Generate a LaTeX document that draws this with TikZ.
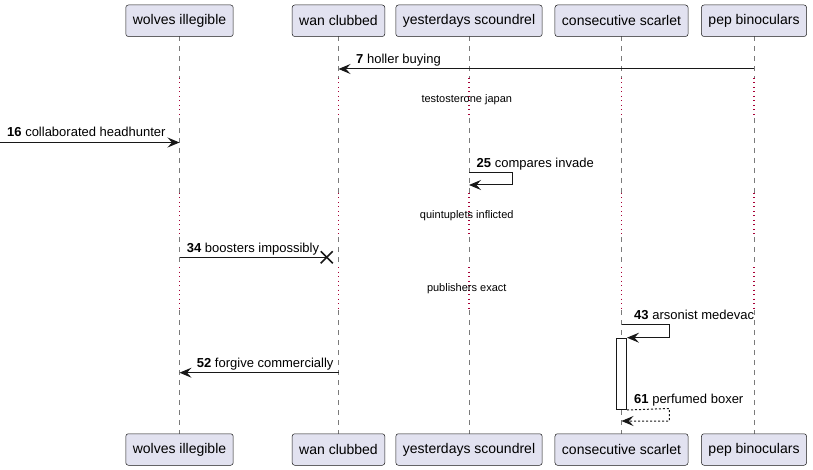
\documentclass[tikz,border=0pt]{standalone}
\usepackage{fontspec}
\setmainfont{Liberation Sans}
\usetikzlibrary{arrows.meta,calc}
\definecolor{boxfill}{HTML}{E2E2F0}
\definecolor{boxline}{HTML}{181818}
\definecolor{lifec}{HTML}{7A7A7A}
\definecolor{delayc}{HTML}{A80036}
\begin{document}
\begin{tikzpicture}[x=1pt,y=-1pt,
  participant/.style={draw=boxline, line width=0.5pt, fill=boxfill, rounded corners=2.5pt,
    minimum height=31.5pt, inner xsep=7pt, inner ysep=0pt, font=\fontsize{14}{16}\selectfont},
  lifeline/.style={draw=lifec, line width=0.8pt, dash pattern=on 5pt off 5pt},
  delayline/.style={draw=delayc, line width=1.2pt, dash pattern=on 1pt off 3.5pt},
  msg/.style={draw=boxline, line width=1pt, -{Stealth[length=12pt,width=10pt,inset=4.5pt]}},
  retmsg/.style={draw=boxline, line width=1pt, dash pattern=on 2pt off 2pt, -{Stealth[length=12pt,width=10pt,inset=4.5pt]}},
  lbl/.style={anchor=base west, inner sep=0pt, font=\fontsize{13}{15}\selectfont},
  dlbl/.style={anchor=base, inner sep=0pt, font=\fontsize{11}{13}\selectfont},
  actbar/.style={draw=boxline, line width=1pt, fill=white}
]
\useasboundingbox (0,0) rectangle (813,470);

% lifelines (segments: dashed / dotted delays)
\foreach \x in {179.5,338.5,469,621.5,754}{
  \draw[lifeline] (\x,36.5) -- (\x,78);
  \draw[delayline] (\x,78) -- (\x,118);
  \draw[lifeline] (\x,118) -- (\x,193);
  \draw[delayline] (\x,193) -- (\x,237);
  \draw[lifeline] (\x,237) -- (\x,267);
  \draw[delayline] (\x,267) -- (\x,310);
  \draw[lifeline] (\x,310) -- (\x,433.5);
}

% participants top
\node[participant] (wt) at (179.5,20.75) {wolves illegible};
\node[participant] (ct) at (338.5,20.75) {wan clubbed};
\node[participant] (yt) at (469,20.75) {yesterdays scoundrel};
\node[participant] (st) at (621.5,20.75) {consecutive scarlet};
\node[participant] (pt) at (754,20.75) {pep binoculars};
% participants bottom
\node[participant] (wb) at (179.5,449.5) {wolves illegible};
\node[participant] (cb) at (338.5,449.5) {wan clubbed};
\node[participant] (yb) at (469,449.5) {yesterdays scoundrel};
\node[participant] (sb) at (621.5,449.5) {consecutive scarlet};
\node[participant] (pb) at (754,449.5) {pep binoculars};

% activation bar
\node[actbar, minimum width=10pt, minimum height=71.3pt, inner sep=0pt, anchor=north] (act) at (621.5,337.7) {};

% message 7
\coordinate (m7s) at (754,69);
\coordinate (m7e) at (338.5,69);
\draw[msg] (m7s) -- (m7e);
\node[lbl] (l7) at (356,64) {\textbf{7} holler buying};

% delay 1
\node[dlbl] (d1) at (466.75,103) {testosterone japan};

% message 16
\coordinate (m16s) at (0,142.5);
\coordinate (m16e) at (179.5,142.5);
\draw[msg] (m16s) -- (m16e);
\node[lbl] (l16) at (7,137) {\textbf{16} collaborated headhunter};

% message 25 (self)
\coordinate (m25a) at (469,172.3);
\coordinate (m25b) at (512,172.3);
\coordinate (m25c) at (512,185);
\coordinate (m25d) at (469,185);
\draw[msg] (m25a) -- (m25b) -- (m25c) -- (m25d);
\node[lbl] (l25) at (476.5,167.3) {\textbf{25} compares invade};

% delay 2
\node[dlbl] (d2) at (466.75,219) {quintuplets inflicted};

% message 34 (destroy)
\coordinate (m34s) at (179.5,257.3);
\coordinate (m34e) at (326.7,257.3);
\draw[draw=boxline, line width=1pt] (m34s) -- (m34e);
\draw[draw=boxline, line width=1.6pt] ($(m34e)+(-6,-6)$) -- ($(m34e)+(6,6)$);
\draw[draw=boxline, line width=1.6pt] ($(m34e)+(-6,6)$) -- ($(m34e)+(6,-6)$);
\node[lbl] (l34) at (186.7,252.5) {\textbf{34} boosters impossibly};

% delay 3
\node[dlbl] (d3) at (466.75,291) {publishers exact};

% message 43 (self, activates)
\coordinate (m43a) at (621.5,324.3);
\coordinate (m43b) at (669.3,324.3);
\coordinate (m43c) at (669.3,337.7);
\draw[msg] (m43a) -- (m43b) -- (m43c) -- (act.north east);
\node[lbl] (l43) at (634,319) {\textbf{43} arsonist medevac};

% message 52
\coordinate (m52s) at (338.5,372.7);
\coordinate (m52e) at (179.5,372.7);
\draw[msg] (m52s) -- (m52e);
\node[lbl] (l52) at (196.7,367.5) {\textbf{52} forgive commercially};

% message 61 (return, dashed)
\coordinate (m61b) at (669.3,408.5);
\coordinate (m61c) at (669.3,421);
\coordinate (m61d) at (621.5,421);
\draw[retmsg] (act.south east) -- (m61b) -- (m61c) -- (m61d);
\node[lbl] (l61) at (634,403) {\textbf{61} perfumed boxer};
\end{tikzpicture}
\end{document}
